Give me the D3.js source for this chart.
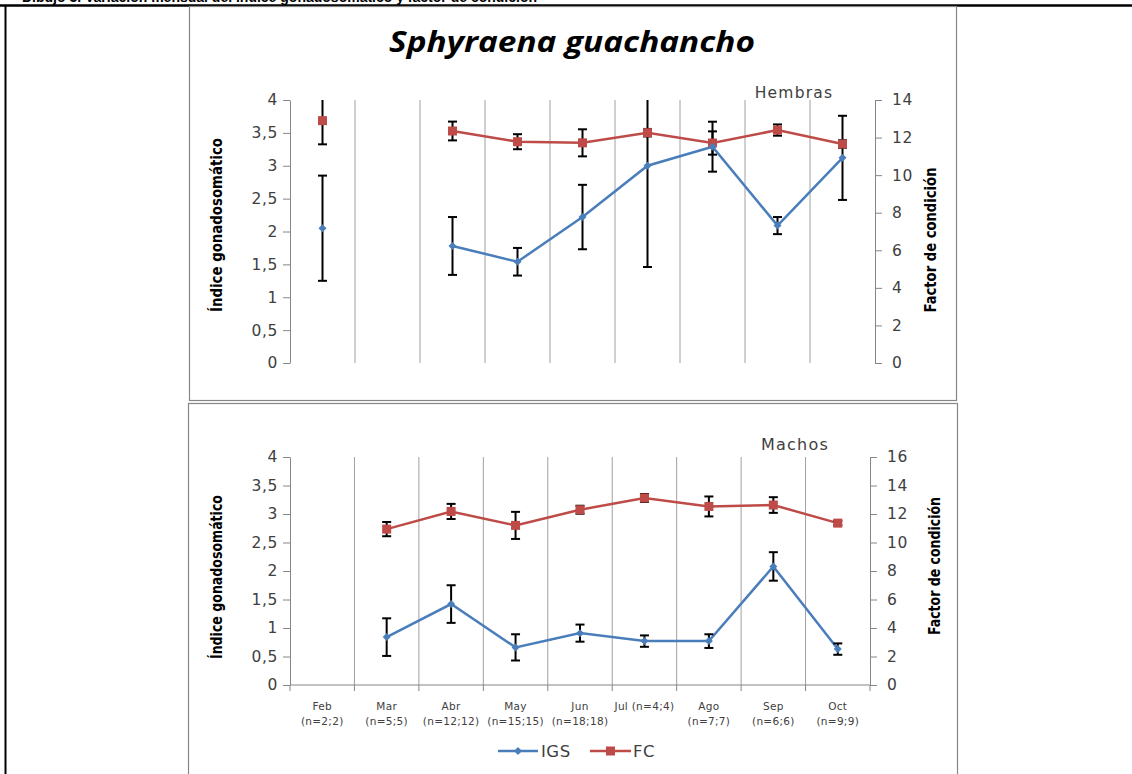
<!DOCTYPE html>
<html><head><meta charset="utf-8">
<script src="https://cdn.jsdelivr.net/npm/d3@7"></script>
<style>
html,body{margin:0;padding:0;background:#fff;overflow:hidden;}
svg{display:block;}
</style></head>
<body>
<script>
// ---------- DATA ----------
const months = ["Feb","Mar","Abr","May","Jun","Jul","Ago","Sep","Oct"];
const monthLabels1 = ["Feb","Mar","Abr","May","Jun","Jul (n=4;4)","Ago","Sep","Oct"];
const monthLabels2 = ["(n=2;2)","(n=5;5)","(n=12;12)","(n=15;15)","(n=18;18)","","(n=7;7)","(n=6;6)","(n=9;9)"];

const hembrasIGS    = [2.05, null, 1.78, 1.54, 2.22, 3.00, 3.29, 2.09, 3.12];
const hembrasIGSErr = [0.80, null, 0.44, 0.21, 0.49, 1.54, 0.38, 0.13, 0.64];
const hembrasFC     = [12.9, null, 12.35, 11.78, 11.72, 12.26, 11.71, 12.40, 11.66];
const hembrasFCErr  = [1.26, null, 0.50, 0.40, 0.72, 0.20, 0.62, 0.30, 0.20];

const machosIGS    = [null, 0.84, 1.42, 0.66, 0.91, 0.77, 0.77, 2.08, 0.63];
const machosIGSErr = [null, 0.33, 0.33, 0.23, 0.15, 0.10, 0.12, 0.25, 0.10];
const machosFC     = [null, 10.94, 12.18, 11.20, 12.30, 13.12, 12.53, 12.63, 11.36];
const machosFCErr  = [null, 0.50, 0.53, 0.95, 0.28, 0.28, 0.70, 0.55, 0.15];

const leftTicks = [0,0.5,1,1.5,2,2.5,3,3.5,4];
const rightTicksTop = [0,2,4,6,8,10,12,14];
const rightTicksBottom = [0,2,4,6,8,10,12,14,16];

// ---------- DRAW ----------
const W = 1132, H = 774;
const svg = d3.select("body").append("svg").attr("width", W).attr("height", H);
const blue = "#4A7EBB", red = "#BE4B48", axisCol = "#868686", gridCol = "#A0A0A0", txtCol = "#404040";
const fmt = v => String(v).replace(".", ",");
const tickFont = "'DejaVu Sans', Verdana, sans-serif";

// cropped caption at very top (cut off in the reference as well)
svg.append("text").attr("x", 22).attr("y", 1.5)
  .attr("font-family", "Liberation Sans, Arial, sans-serif").attr("font-weight", "bold")
  .attr("font-size", 14).attr("fill", "#000")
  .text("Dibujo 3. Variación mensual del índice gonadosomático y factor de condición");

// outer black borders
svg.append("line").attr("x1", 0).attr("x2", W).attr("y1", 5.5).attr("y2", 5.5).attr("stroke", "#000").attr("stroke-width", 2.5);
svg.append("line").attr("x1", 5.5).attr("x2", 5.5).attr("y1", 5).attr("y2", H).attr("stroke", "#000").attr("stroke-width", 2);

// chart frames
svg.append("rect").attr("x", 189.5).attr("y", 6.5).attr("width", 767).attr("height", 394).attr("fill", "#fff").attr("stroke", axisCol).attr("stroke-width", 1.2);
svg.append("rect").attr("x", 188.5).attr("y", 403.5).attr("width", 769).attr("height", 380).attr("fill", "#fff").attr("stroke", axisCol).attr("stroke-width", 1.2);

// title
svg.append("text").attr("x", 572).attr("y", 52).attr("text-anchor", "middle")
  .attr("font-family", "'Open Sans', Lato, sans-serif").attr("font-weight", "bold").attr("font-style", "italic")
  .attr("font-size", 28).attr("fill", "#000")
  .attr("textLength", 366).attr("lengthAdjust", "spacingAndGlyphs")
  .text("Sphyraena guachancho");

function panel(cfg) {
  const g = svg.append("g");
  const x = d3.scaleBand().domain(months).range([cfg.x0, cfg.x1]);
  const yL = d3.scaleLinear().domain([0, 4]).range([cfg.yb, cfg.yt]);
  const yR = d3.scaleLinear().domain([0, cfg.rmax]).range([cfg.yb, cfg.yt]);
  const cx = m => x(m) + x.bandwidth() / 2;

  // vertical gridlines at category boundaries
  const bounds = months.slice(1).map(m => x(m));
  g.selectAll(".grid").data(bounds).join("line")
    .attr("x1", d => d).attr("x2", d => d).attr("y1", cfg.yt).attr("y2", cfg.yb)
    .attr("stroke", gridCol).attr("stroke-width", 1);

  // left axis
  const la = g.append("g").attr("transform", `translate(${cfg.x0},0)`)
    .call(d3.axisLeft(yL).tickValues(leftTicks).tickFormat(fmt).tickSizeOuter(0).tickSizeInner(7).tickPadding(5));
  la.select(".domain").attr("stroke", axisCol);
  la.selectAll(".tick line").attr("stroke", axisCol);
  la.selectAll("text").attr("font-family", tickFont).attr("font-size", 15.5).attr("letter-spacing", 0.6).attr("fill", txtCol);

  // right axis
  const ra = g.append("g").attr("transform", `translate(${cfg.x1},0)`)
    .call(d3.axisRight(yR).tickValues(cfg.rticks).tickSizeOuter(0).tickSizeInner(7).tickPadding(10));
  ra.select(".domain").attr("stroke", axisCol);
  ra.selectAll(".tick line").attr("stroke", axisCol);
  ra.selectAll("text").attr("font-family", tickFont).attr("font-size", 15.5).attr("letter-spacing", 0.6).attr("fill", txtCol);

  // bottom axis (machos only)
  if (cfg.xaxis) {
    g.append("line").attr("x1", cfg.x0).attr("x2", cfg.x1).attr("y1", cfg.yb).attr("y2", cfg.yb).attr("stroke", axisCol);
    g.selectAll(".xt").data(months.map(m => x(m)).concat([cfg.x1])).join("line")
      .attr("x1", d => d).attr("x2", d => d).attr("y1", cfg.yb).attr("y2", cfg.yb + 6).attr("stroke", axisCol);
    g.selectAll(".xl1").data(months).join("text")
      .attr("x", (m, i) => cx(m)).attr("y", cfg.yb + 25).attr("text-anchor", "middle")
      .attr("font-family", tickFont).attr("font-size", 10.5).attr("letter-spacing", 0.3).attr("fill", txtCol)
      .text((m, i) => monthLabels1[i]);
    g.selectAll(".xl2").data(months).join("text")
      .attr("x", (m, i) => cx(m)).attr("y", cfg.yb + 40).attr("text-anchor", "middle")
      .attr("font-family", tickFont).attr("font-size", 10.5).attr("letter-spacing", 0.3).attr("fill", txtCol)
      .text((m, i) => monthLabels2[i]);
  }

  // axis titles
  g.append("text").attr("transform", `translate(${cfg.ltx},${cfg.lty}) rotate(-90)`).attr("text-anchor", "middle")
    .attr("font-family", "'Liberation Sans Narrow', 'DejaVu Sans Condensed', sans-serif").attr("font-weight", "bold")
    .attr("font-size", 16).attr("fill", "#000")
    .attr("textLength", cfg.ltl).attr("lengthAdjust", "spacingAndGlyphs").text("Índice gonadosomático");
  g.append("text").attr("transform", `translate(${cfg.rtx},${cfg.rty}) rotate(-90)`).attr("text-anchor", "middle")
    .attr("font-family", "'Liberation Sans Narrow', 'DejaVu Sans Condensed', sans-serif").attr("font-weight", "bold")
    .attr("font-size", 16).attr("fill", "#000")
    .attr("textLength", cfg.rtl).attr("lengthAdjust", "spacingAndGlyphs").text("Factor de condición");

  // panel label
  g.append("text").attr("x", cfg.labx).attr("y", cfg.laby).attr("text-anchor", "middle")
    .attr("font-family", tickFont).attr("font-size", cfg.labsize).attr("letter-spacing", 1.2).attr("fill", txtCol).text(cfg.label);

  // clip
  const cid = "clip" + cfg.label;
  svg.append("clipPath").attr("id", cid).append("rect")
    .attr("x", cfg.x0).attr("y", cfg.yt).attr("width", cfg.x1 - cfg.x0).attr("height", cfg.yb - cfg.yt);
  const pg = g.append("g").attr("clip-path", `url(#${cid})`);

  const igs = months.map((m, i) => ({m, v: cfg.igs[i], e: cfg.igsErr[i]}));
  const fc = months.map((m, i) => ({m, v: cfg.fc[i], e: cfg.fcErr[i]}));

  const lineL = d3.line().defined(d => d.v != null).x(d => cx(d.m)).y(d => yL(d.v));
  const lineR = d3.line().defined(d => d.v != null).x(d => cx(d.m)).y(d => yR(d.v));
  pg.append("path").datum(fc).attr("d", lineR).attr("fill", "none").attr("stroke", red).attr("stroke-width", 2.5);
  pg.append("path").datum(igs).attr("d", lineL).attr("fill", "none").attr("stroke", blue).attr("stroke-width", 2.5);

  // error bars
  function errBars(data, sc) {
    const d2 = data.filter(d => d.v != null);
    pg.selectAll(null).data(d2).join("line")
      .attr("x1", d => cx(d.m)).attr("x2", d => cx(d.m))
      .attr("y1", d => sc(d.v + d.e)).attr("y2", d => sc(d.v - d.e))
      .attr("stroke", "#000").attr("stroke-width", 2);
    [1, -1].forEach(s => {
      pg.selectAll(null).data(d2).join("line")
        .attr("x1", d => cx(d.m) - 4.5).attr("x2", d => cx(d.m) + 4.5)
        .attr("y1", d => sc(d.v + s * d.e)).attr("y2", d => sc(d.v + s * d.e))
        .attr("stroke", "#000").attr("stroke-width", 2);
    });
  }
  errBars(igs, yL);
  errBars(fc, yR);

  // markers
  pg.selectAll(null).data(fc.filter(d => d.v != null)).join("rect")
    .attr("x", d => cx(d.m) - 4.5).attr("y", d => yR(d.v) - 4.5).attr("width", 9).attr("height", 9).attr("fill", red);
  pg.selectAll(null).data(igs.filter(d => d.v != null)).join("path")
    .attr("d", d => { const X = cx(d.m), Y = yL(d.v); return `M${X},${Y-4}L${X+4},${Y}L${X},${Y+4}L${X-4},${Y}Z`; })
    .attr("fill", blue);
}

panel({x0: 290, x1: 875, yt: 100, yb: 363, rmax: 14, rticks: rightTicksTop,
  igs: hembrasIGS, igsErr: hembrasIGSErr, fc: hembrasFC, fcErr: hembrasFCErr,
  ltx: 222, lty: 225, ltl: 174, rtx: 936, rty: 240, rtl: 145,
  label: "Hembras", labx: 794, laby: 98, labsize: 15.5, xaxis: false});

panel({x0: 290, x1: 870, yt: 457, yb: 685, rmax: 16, rticks: rightTicksBottom,
  igs: machosIGS, igsErr: machosIGSErr, fc: machosFC, fcErr: machosFCErr,
  ltx: 222, lty: 577, ltl: 164, rtx: 940, rty: 566, rtl: 138,
  label: "Machos", labx: 795, laby: 450, labsize: 16, xaxis: true});

// legend
const lg = svg.append("g");
const ly = 751;
lg.append("line").attr("x1", 498).attr("x2", 538).attr("y1", ly).attr("y2", ly).attr("stroke", blue).attr("stroke-width", 2.5);
lg.append("path").attr("d", `M518,${ly-4}L522,${ly}L518,${ly+4}L514,${ly}Z`).attr("fill", blue);
lg.append("text").attr("x", 541).attr("y", ly + 6).attr("font-family", tickFont).attr("font-size", 16.5).attr("letter-spacing", 0.5).attr("fill", txtCol).text("IGS");
lg.append("line").attr("x1", 590).attr("x2", 631).attr("y1", ly).attr("y2", ly).attr("stroke", red).attr("stroke-width", 2.5);
lg.append("rect").attr("x", 606).attr("y", ly - 4.5).attr("width", 9).attr("height", 9).attr("fill", red);
lg.append("text").attr("x", 633).attr("y", ly + 6).attr("font-family", tickFont).attr("font-size", 16.5).attr("letter-spacing", 0.5).attr("fill", txtCol).text("FC");
</script>
</body></html>
